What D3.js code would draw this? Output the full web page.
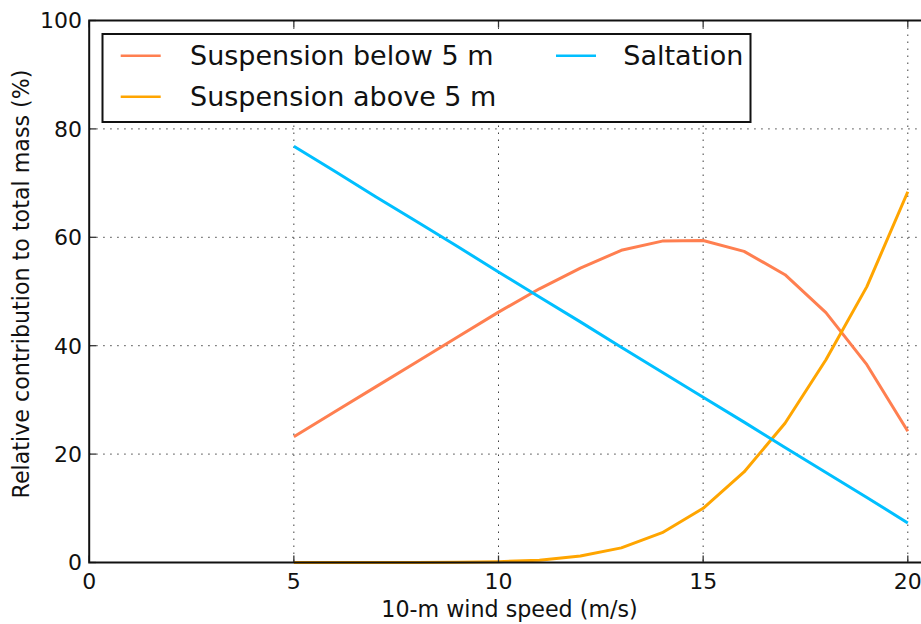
<!doctype html>
<html>
<head>
<meta charset="utf-8" />
<title>Relative contribution to total mass</title>
<script src="https://cdn.jsdelivr.net/npm/d3@7"></script>
<style>
  html, body { margin: 0; padding: 0; background: #fff; overflow: hidden; }
  svg { display: block; font-family: "DejaVu Sans", sans-serif; }
</style>
</head>
<body>
<script>
// wind speed (m/s) at 10 m
const windSpeed = [5, 6, 7, 8, 9, 10, 11, 12, 13, 14, 15, 16, 17, 18, 19, 20];
// relative contribution (%) per series
const suspBelow = [23.2, 27.8, 32.4, 37.0, 41.6, 46.2, 50.5, 54.3, 57.6, 59.3, 59.4, 57.4, 53.1, 46.1, 36.5, 24.2];
const suspAbove = [0.0, 0.0, 0.0, 0.0, 0.05, 0.15, 0.4, 1.2, 2.7, 5.5, 10.0, 16.7, 25.7, 37.4, 50.9, 68.4];
const saltation = [76.8, 72.2, 67.5, 62.9, 58.3, 53.6, 49.0, 44.4, 39.7, 35.1, 30.5, 25.9, 21.2, 16.6, 12.0, 7.3];
const xTicks = [0, 5, 10, 15, 20];
const yTicks = [0, 20, 40, 60, 80, 100];

const series = [
  { name: "Suspension below 5 m", values: suspBelow, color: "#ff7f50" },
  { name: "Suspension above 5 m", values: suspAbove, color: "#ffa500" },
  { name: "Saltation", values: saltation, color: "#00bfff" }
];

const W = 921, H = 624;
const plotLeft = 89.2, plotTop = 20.5, plotBottom = 562.5;
const plotRight = 960; // axes box runs past the window edge

const x = d3.scaleLinear().domain([0, 20]).range([plotLeft, 907.8]);
const y = d3.scaleLinear().domain([0, 100]).range([plotBottom, plotTop]);

const svg = d3.select("body").append("svg")
  .attr("width", W)
  .attr("height", H);

// grid
const grid = svg.append("g")
  .attr("stroke", "#000")
  .attr("stroke-width", 1)
  .attr("stroke-dasharray", "1.5,5.5")
  .attr("opacity", 0.75);
grid.selectAll("line.v").data(xTicks.slice(1)).join("line")
  .attr("class", "v")
  .attr("x1", d => x(d)).attr("x2", d => x(d))
  .attr("y1", plotTop).attr("y2", plotBottom);
grid.selectAll("line.h").data(yTicks.slice(1, -1)).join("line")
  .attr("class", "h")
  .attr("x1", plotLeft).attr("x2", plotRight)
  .attr("y1", d => y(d)).attr("y2", d => y(d));

// series lines
const line = d3.line()
  .x((d, i) => x(windSpeed[i]))
  .y(d => y(d));

svg.append("g").selectAll("path")
  .data(series)
  .join("path")
  .attr("fill", "none")
  .attr("stroke", d => d.color)
  .attr("stroke-width", 3)
  .attr("stroke-linejoin", "round")
  .attr("d", d => line(d.values));

// ticks (inward, all sides)
const tl = 7;
const ticks = svg.append("g").attr("stroke", "#333").attr("stroke-width", 1.3);
xTicks.forEach(t => {
  ticks.append("line").attr("x1", x(t)).attr("x2", x(t)).attr("y1", plotBottom).attr("y2", plotBottom - tl);
  ticks.append("line").attr("x1", x(t)).attr("x2", x(t)).attr("y1", plotTop).attr("y2", plotTop + tl);
});
yTicks.forEach(t => {
  ticks.append("line").attr("x1", plotLeft).attr("x2", plotLeft + tl).attr("y1", y(t)).attr("y2", y(t));
});

// spines
svg.append("path")
  .attr("d", `M${plotRight},${plotTop}H${plotLeft}V${plotBottom}H${plotRight}`)
  .attr("stroke", "#111").attr("stroke-width", 2).attr("fill", "none");

// tick labels
svg.append("g").attr("font-size", 22).attr("fill", "#111").attr("text-anchor", "middle")
  .selectAll("text").data(xTicks).join("text")
  .attr("x", d => x(d)).attr("y", 589)
  .text(d => d);
svg.append("g").attr("font-size", 22).attr("fill", "#111").attr("text-anchor", "end")
  .selectAll("text").data(yTicks).join("text")
  .attr("x", 82).attr("y", d => y(d)).attr("dy", "0.36em")
  .text(d => d);

// axis labels
svg.append("text")
  .attr("x", 509.5).attr("y", 617)
  .attr("text-anchor", "middle").attr("font-size", 22.2).attr("fill", "#111")
  .text("10-m wind speed (m/s)");
svg.append("text")
  .attr("transform", "translate(29,284) rotate(-90)")
  .attr("text-anchor", "middle").attr("font-size", 22.2).attr("fill", "#111")
  .text("Relative contribution to total mass (%)");

// legend
const legend = svg.append("g");
legend.append("rect")
  .attr("x", 102.5).attr("y", 34).attr("width", 648).attr("height", 88)
  .attr("fill", "#fff").attr("stroke", "#111").attr("stroke-width", 2);
const legPos = [
  { lx: 120.7, tx: 190, cy: 55.7 },
  { lx: 120.7, tx: 190, cy: 96.7 },
  { lx: 556, tx: 623.3, cy: 55.7 }
];
series.forEach((s, i) => {
  const p = legPos[i];
  legend.append("line")
    .attr("x1", p.lx).attr("x2", p.lx + 40)
    .attr("y1", p.cy).attr("y2", p.cy)
    .attr("stroke", s.color).attr("stroke-width", 2.5);
  legend.append("text")
    .attr("x", p.tx).attr("y", p.cy).attr("dy", "0.36em")
    .attr("font-size", 27).attr("fill", "#111")
    .text(s.name);
});
</script>
</body>
</html>
